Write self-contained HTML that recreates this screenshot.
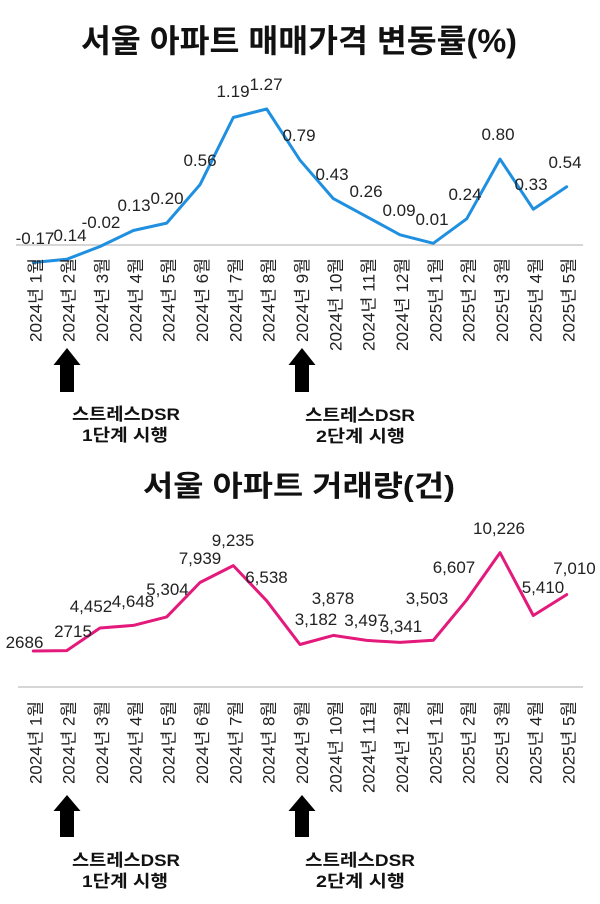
<!DOCTYPE html>
<html lang="ko">
<head>
<meta charset="utf-8">
<style>
  html,body{margin:0;padding:0;background:#fff;}
  svg{display:block;}
  text{font-family:"Liberation Sans","Noto Sans CJK KR",sans-serif;}
  .num{font-size:17px;fill:#222;text-anchor:middle;}
  .ax{font-size:17px;fill:#222;text-anchor:end;}
  .ttl{font-weight:bold;fill:#111;}
  .ann{font-weight:bold;font-size:17px;fill:#111;}
</style>
</head>
<body>
<svg width="600" height="904" viewBox="0 0 600 904" xmlns="http://www.w3.org/2000/svg">
  <rect width="600" height="904" fill="#fff"/>

  <!-- ===== TOP CHART ===== -->
  <text class="ttl" x="81" y="52" font-size="32" textLength="436" lengthAdjust="spacingAndGlyphs">서울 아파트 매매가격 변동률(%)</text>

  <line x1="16" y1="245" x2="583" y2="245" stroke="#c8c8c8" stroke-width="1.6"/>

  <polyline fill="none" stroke="#1f8fe0" stroke-width="3" stroke-linejoin="round" stroke-linecap="round"
    points="33.3,262.5 66.7,259.3 100,246.5 133.3,230.5 166.7,223.1 200,184.7 233.3,117.5 266.7,109 300,160.2 333.3,198.6 366.7,216.7 400,234.8 433.3,243.3 466.7,218.8 500,159.1 533.3,209.2 566.7,186.8"/>

  <text class="num" x="35" y="244">-0.17</text>
  <text class="num" x="70" y="241">0.14</text>
  <text class="num" x="101" y="228">-0.02</text>
  <text class="num" x="134" y="211">0.13</text>
  <text class="num" x="167" y="204">0.20</text>
  <text class="num" x="200" y="166">0.56</text>
  <text class="num" x="233" y="97">1.19</text>
  <text class="num" x="266" y="90">1.27</text>
  <text class="num" x="299" y="141">0.79</text>
  <text class="num" x="332" y="180">0.43</text>
  <text class="num" x="366" y="197">0.26</text>
  <text class="num" x="399" y="216">0.09</text>
  <text class="num" x="432" y="225">0.01</text>
  <text class="num" x="465" y="200">0.24</text>
  <text class="num" x="498" y="140">0.80</text>
  <text class="num" x="531" y="190">0.33</text>
  <text class="num" x="565" y="168">0.54</text>

  <!-- top x labels -->
  <g>
    <text class="ax" transform="translate(41.3,258) rotate(-90)" textLength="84" lengthAdjust="spacingAndGlyphs">2024년 1월</text>
    <text class="ax" transform="translate(74.7,258) rotate(-90)" textLength="84" lengthAdjust="spacingAndGlyphs">2024년 2월</text>
    <text class="ax" transform="translate(108,258) rotate(-90)" textLength="84" lengthAdjust="spacingAndGlyphs">2024년 3월</text>
    <text class="ax" transform="translate(141.3,258) rotate(-90)" textLength="84" lengthAdjust="spacingAndGlyphs">2024년 4월</text>
    <text class="ax" transform="translate(174.7,258) rotate(-90)" textLength="84" lengthAdjust="spacingAndGlyphs">2024년 5월</text>
    <text class="ax" transform="translate(208,258) rotate(-90)" textLength="84" lengthAdjust="spacingAndGlyphs">2024년 6월</text>
    <text class="ax" transform="translate(241.3,258) rotate(-90)" textLength="84" lengthAdjust="spacingAndGlyphs">2024년 7월</text>
    <text class="ax" transform="translate(274.7,258) rotate(-90)" textLength="84" lengthAdjust="spacingAndGlyphs">2024년 8월</text>
    <text class="ax" transform="translate(308,258) rotate(-90)" textLength="84" lengthAdjust="spacingAndGlyphs">2024년 9월</text>
    <text class="ax" transform="translate(341.3,258) rotate(-90)" textLength="93" lengthAdjust="spacingAndGlyphs">2024년 10월</text>
    <text class="ax" transform="translate(374.7,258) rotate(-90)" textLength="93" lengthAdjust="spacingAndGlyphs">2024년 11월</text>
    <text class="ax" transform="translate(408,258) rotate(-90)" textLength="93" lengthAdjust="spacingAndGlyphs">2024년 12월</text>
    <text class="ax" transform="translate(441.3,258) rotate(-90)" textLength="84" lengthAdjust="spacingAndGlyphs">2025년 1월</text>
    <text class="ax" transform="translate(474.7,258) rotate(-90)" textLength="84" lengthAdjust="spacingAndGlyphs">2025년 2월</text>
    <text class="ax" transform="translate(508,258) rotate(-90)" textLength="84" lengthAdjust="spacingAndGlyphs">2025년 3월</text>
    <text class="ax" transform="translate(541.3,258) rotate(-90)" textLength="84" lengthAdjust="spacingAndGlyphs">2025년 4월</text>
    <text class="ax" transform="translate(574.7,258) rotate(-90)" textLength="84" lengthAdjust="spacingAndGlyphs">2025년 5월</text>
  </g>

  <!-- top arrows -->
  <polygon fill="#000" points="67,348 80.5,365 74,365 74,392 60,392 60,365 53.5,365"/>
  <polygon fill="#000" points="302,348 315.5,365 309,365 309,392 295,392 295,365 288.5,365"/>

  <text class="ann" x="72" y="420" textLength="108" lengthAdjust="spacingAndGlyphs">스트레스DSR</text>
  <text class="ann" x="82" y="441" textLength="86" lengthAdjust="spacingAndGlyphs">1단계 시행</text>
  <text class="ann" x="305" y="421" textLength="110" lengthAdjust="spacingAndGlyphs">스트레스DSR</text>
  <text class="ann" x="316" y="442" textLength="89" lengthAdjust="spacingAndGlyphs">2단계 시행</text>

  <!-- ===== BOTTOM CHART ===== -->
  <text class="ttl" x="143" y="496" font-size="29" textLength="312" lengthAdjust="spacingAndGlyphs">서울 아파트 거래량(건)</text>

  <line x1="18" y1="687" x2="583" y2="687" stroke="#c8c8c8" stroke-width="1.6"/>

  <polyline fill="none" stroke="#e3197b" stroke-width="3" stroke-linejoin="round" stroke-linecap="round"
    points="33.3,651 66.7,650.6 100,628 133.3,625.4 166.7,616.9 200,582.5 233.3,565.6 266.7,600.8 300,644.5 333.3,635.4 366.7,640.4 400,642.4 433.3,640.3 466.7,599.9 500,552.7 533.3,615.5 566.7,594.6"/>

  <text class="num" x="24.5" y="648">2686</text>
  <text class="num" x="73" y="637">2715</text>
  <text class="num" x="91" y="612">4,452</text>
  <text class="num" x="133" y="607">4,648</text>
  <text class="num" x="167.5" y="595">5,304</text>
  <text class="num" x="200" y="564">7,939</text>
  <text class="num" x="233" y="546">9,235</text>
  <text class="num" x="266.5" y="583">6,538</text>
  <text class="num" x="316" y="625">3,182</text>
  <text class="num" x="333" y="604">3,878</text>
  <text class="num" x="365.5" y="626">3,497</text>
  <text class="num" x="401" y="632">3,341</text>
  <text class="num" x="427" y="604">3,503</text>
  <text class="num" x="454" y="573">6,607</text>
  <text class="num" x="499" y="534">10,226</text>
  <text class="num" x="543" y="593">5,410</text>
  <text class="num" x="574.5" y="574">7,010</text>

  <!-- bottom x labels -->
  <g>
    <text class="ax" transform="translate(41.3,701) rotate(-90)" textLength="83" lengthAdjust="spacingAndGlyphs">2024년 1월</text>
    <text class="ax" transform="translate(74.7,701) rotate(-90)" textLength="83" lengthAdjust="spacingAndGlyphs">2024년 2월</text>
    <text class="ax" transform="translate(108,701) rotate(-90)" textLength="83" lengthAdjust="spacingAndGlyphs">2024년 3월</text>
    <text class="ax" transform="translate(141.3,701) rotate(-90)" textLength="83" lengthAdjust="spacingAndGlyphs">2024년 4월</text>
    <text class="ax" transform="translate(174.7,701) rotate(-90)" textLength="83" lengthAdjust="spacingAndGlyphs">2024년 5월</text>
    <text class="ax" transform="translate(208,701) rotate(-90)" textLength="83" lengthAdjust="spacingAndGlyphs">2024년 6월</text>
    <text class="ax" transform="translate(241.3,701) rotate(-90)" textLength="83" lengthAdjust="spacingAndGlyphs">2024년 7월</text>
    <text class="ax" transform="translate(274.7,701) rotate(-90)" textLength="83" lengthAdjust="spacingAndGlyphs">2024년 8월</text>
    <text class="ax" transform="translate(308,701) rotate(-90)" textLength="83" lengthAdjust="spacingAndGlyphs">2024년 9월</text>
    <text class="ax" transform="translate(341.3,701) rotate(-90)" textLength="92" lengthAdjust="spacingAndGlyphs">2024년 10월</text>
    <text class="ax" transform="translate(374.7,701) rotate(-90)" textLength="92" lengthAdjust="spacingAndGlyphs">2024년 11월</text>
    <text class="ax" transform="translate(408,701) rotate(-90)" textLength="92" lengthAdjust="spacingAndGlyphs">2024년 12월</text>
    <text class="ax" transform="translate(441.3,701) rotate(-90)" textLength="83" lengthAdjust="spacingAndGlyphs">2025년 1월</text>
    <text class="ax" transform="translate(474.7,701) rotate(-90)" textLength="83" lengthAdjust="spacingAndGlyphs">2025년 2월</text>
    <text class="ax" transform="translate(508,701) rotate(-90)" textLength="83" lengthAdjust="spacingAndGlyphs">2025년 3월</text>
    <text class="ax" transform="translate(541.3,701) rotate(-90)" textLength="83" lengthAdjust="spacingAndGlyphs">2025년 4월</text>
    <text class="ax" transform="translate(574.7,701) rotate(-90)" textLength="83" lengthAdjust="spacingAndGlyphs">2025년 5월</text>
  </g>

  <!-- bottom arrows -->
  <polygon fill="#000" points="67,795 80.5,811 74,811 74,837 60,837 60,811 53.5,811"/>
  <polygon fill="#000" points="302,795 315.5,811 309,811 309,837 295,837 295,811 288.5,811"/>

  <text class="ann" x="72" y="866" textLength="108" lengthAdjust="spacingAndGlyphs">스트레스DSR</text>
  <text class="ann" x="82" y="887" textLength="86" lengthAdjust="spacingAndGlyphs">1단계 시행</text>
  <text class="ann" x="305" y="866" textLength="110" lengthAdjust="spacingAndGlyphs">스트레스DSR</text>
  <text class="ann" x="316" y="887" textLength="89" lengthAdjust="spacingAndGlyphs">2단계 시행</text>
</svg>
</body>
</html>
